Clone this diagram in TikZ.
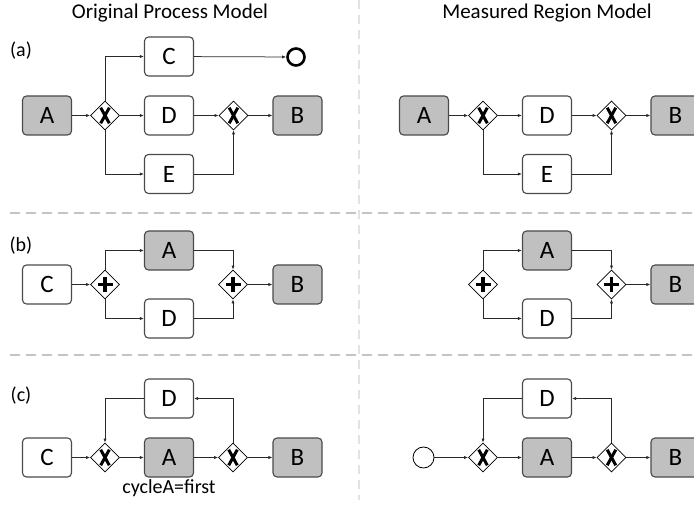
\documentclass[tikz,border=0pt]{standalone}
\usepackage{fontspec}
\setmainfont{Carlito}
\usetikzlibrary{arrows.meta,shapes.geometric}
\definecolor{boxgray}{HTML}{C0C0C0}
\definecolor{boxedge}{HTML}{4A4A4A}
\definecolor{edgegray}{HTML}{2A2A2A}
\definecolor{sepgray}{HTML}{C4C4C4}
\definecolor{vsepgray}{HTML}{E2E2E2}
\tikzset{
  task/.style={draw=boxedge, line width=1.1pt, rounded corners=4pt, minimum width=49pt, minimum height=39pt, inner sep=0pt, font=\fontsize{25}{28}\selectfont, fill=white},
  grey/.style={task, fill=boxgray},
  gw/.style={diamond, draw=black, line width=0.8pt, minimum width=29pt, minimum height=29pt, inner sep=0pt, fill=white},
  xgw/.style={gw, path picture={
     \draw[line width=3pt] ([shift={(-4.3,-7.8)}]path picture bounding box.center) -- ([shift={(4.3,7.8)}]path picture bounding box.center);
     \draw[line width=3pt] ([shift={(-4.3,7.8)}]path picture bounding box.center) -- ([shift={(4.3,-7.8)}]path picture bounding box.center);}},
  pgw/.style={gw, path picture={
     \draw[line width=3.6pt] ([shift={(-7.5,0)}]path picture bounding box.center) -- ([shift={(7.5,0)}]path picture bounding box.center);
     \draw[line width=3.6pt] ([shift={(0,-7.5)}]path picture bounding box.center) -- ([shift={(0,7.5)}]path picture bounding box.center);}},
  flow/.style={draw=edgegray, line width=0.75pt, -{Latex[length=4pt,width=3.2pt]}},
  endev/.style={circle, draw=black, line width=2.6pt, minimum size=17pt, inner sep=0pt},
  startev/.style={circle, draw=black, line width=0.8pt, minimum size=21pt, inner sep=0pt},
  lbl/.style={font=\fontsize{20}{22}\selectfont, inner sep=0pt},
  ttl/.style={font=\fontsize{21}{24}\selectfont, inner sep=0pt},
  hsep/.style={draw=sepgray, line width=1.8pt, dash pattern=on 10pt off 6pt},
  vsep/.style={draw=vsepgray, line width=2pt, dash pattern=on 9pt off 6pt},
}
\begin{document}
\begin{tikzpicture}[x=1pt,y=-1pt]
\useasboundingbox (0,0) rectangle (694,505);
% separators
\coordinate (vt) at (359,0); \coordinate (vb) at (359,500);
\draw[vsep] (vt) -- (vb);
\coordinate (h1a) at (10,213); \coordinate (h1b) at (694,213);
\coordinate (h2a) at (10,355); \coordinate (h2b) at (694,355);
\draw[hsep] (h1a) -- (h1b);
\draw[hsep] (h2a) -- (h2b);
% titles
\node[ttl] (t1) at (170,13) {Original Process Model};
\node[ttl] (t2) at (547,13) {Measured Region Model};
\node[lbl] (la) at (21,51) {(a)};
\node[lbl] (lb) at (21,246) {(b)};
\node[lbl] (lc) at (21,396) {(c)};

% ---------- (a) left
\node[grey] (aA) at (47,115.5) {A};
\node[xgw] (ag1) at (105,115.5) {};
\node[task] (aC) at (169,56.5) {C};
\node[task] (aD) at (169,115.5) {D};
\node[task] (aE) at (169,174) {E};
\node[endev] (aend) at (296,57) {};
\node[xgw] (ag2) at (233.5,115.5) {};
\node[grey] (aB) at (297.5,115.5) {B};
\draw[flow] (aA) -- (ag1);
\draw[flow] (ag1.north) |- (aC.west);
\draw[flow] (ag1) -- (aD);
\draw[flow] (ag1.south) |- (aE.west);
\draw[flow] (aC) -- (aend);
\draw[flow] (aD) -- (ag2);
\draw[flow] (aE.east) -| (ag2.south);
\draw[flow] (ag2) -- (aB);

% ---------- (a) right
\node[grey] (rA) at (424,115.5) {A};
\node[xgw] (rg1) at (483,115.5) {};
\node[task] (rD) at (547,115.5) {D};
\node[task] (rE) at (547,174) {E};
\node[xgw] (rg2) at (611.5,115.5) {};
\node[grey] (rB) at (675.5,115.5) {B};
\draw[flow] (rA) -- (rg1);
\draw[flow] (rg1) -- (rD);
\draw[flow] (rg1.south) |- (rE.west);
\draw[flow] (rD) -- (rg2);
\draw[flow] (rE.east) -| (rg2.south);
\draw[flow] (rg2) -- (rB);

% ---------- (b) left
\node[task] (bC) at (47,284.5) {C};
\node[pgw] (bp1) at (105,284.5) {};
\node[grey] (bA) at (169,250.5) {A};
\node[task] (bD) at (169,318.5) {D};
\node[pgw] (bp2) at (233,284.5) {};
\node[grey] (bB) at (297.5,284.5) {B};
\draw[flow] (bC) -- (bp1);
\draw[flow] (bp1.north) |- (bA.west);
\draw[flow] (bp1.south) |- (bD.west);
\draw[flow] (bA.east) -| (bp2.north);
\draw[flow] (bD.east) -| (bp2.south);
\draw[flow] (bp2) -- (bB);

% ---------- (b) right
\node[pgw] (sp1) at (483,284.5) {};
\node[grey] (sA) at (547,250.5) {A};
\node[task] (sD) at (547,318.5) {D};
\node[pgw] (sp2) at (611.5,284.5) {};
\node[grey] (sB) at (675.5,284.5) {B};
\draw[flow] (sp1.north) |- (sA.west);
\draw[flow] (sp1.south) |- (sD.west);
\draw[flow] (sA.east) -| (sp2.north);
\draw[flow] (sD.east) -| (sp2.south);
\draw[flow] (sp2) -- (sB);

% ---------- (c) left
\node[task] (cD) at (169,398.5) {D};
\node[task] (cC) at (47,457.5) {C};
\node[xgw] (cx1) at (105,457.5) {};
\node[grey] (cA) at (169,457.5) {A};
\node[xgw] (cx2) at (233,457.5) {};
\node[grey] (cB) at (297.5,457.5) {B};
\node[lbl] (cyc) at (169,488) {cycleA=first};
\draw[flow] (cC) -- (cx1);
\draw[flow] (cx1) -- (cA);
\draw[flow] (cA) -- (cx2);
\draw[flow] (cx2) -- (cB);
\draw[flow] (cx2.north) |- (cD.east);
\draw[flow] (cD.west) -| (cx1.north);

% ---------- (c) right
\node[startev] (ds) at (423.5,457.5) {};
\node[xgw] (dx1) at (483,457.5) {};
\node[grey] (dA) at (547,457.5) {A};
\node[xgw] (dx2) at (611.5,457.5) {};
\node[grey] (dB) at (675.5,457.5) {B};
\node[task] (dD) at (547,398.5) {D};
\draw[flow] (ds) -- (dx1);
\draw[flow] (dx1) -- (dA);
\draw[flow] (dA) -- (dx2);
\draw[flow] (dx2) -- (dB);
\draw[flow] (dx2.north) |- (dD.east);
\draw[flow] (dD.west) -| (dx1.north);
\end{tikzpicture}
\end{document}
